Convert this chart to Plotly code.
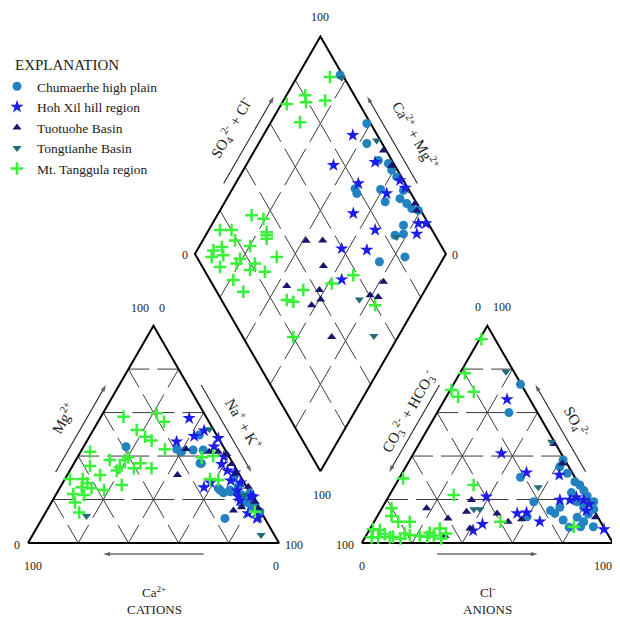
import numpy as np
import plotly.graph_objects as go

# ---------------- data (percent values) ----------------
# Cation triangle: Mg2+ (%) and Na+ + K+ (%); Ca2+ = 100 - Mg - NaK
# Anion triangle: SO4 2- (%) and Cl- (%);  CO3+HCO3 = 100 - SO4 - Cl
# Diamond: Ca2+ + Mg2+ (%) and SO4 2- + Cl- (%)

group_names = ["Chumaerhe high plain", "Hoh Xil hill region", "Tuotuohe Basin",
               "Tongtianhe Basin", "Mt. Tanggula region"]

chum_cat_mg  = [44.3, 43.1, 42.0, 49.7, 36.6, 42.8, 25.1, 23.1, 24.4, 23.6, 22.1, 20.1, 22.8, 18.2, 16.4, 11.3, 17.9, 29.8,
                42.8, 36.7, 24.4, 23.6, 25.9, 22.9, 19.8, 17.5, 14.4]
chum_cat_nak = [16.9, 37.7, 40.2, 43.4, 50.8, 44.4, 63.3, 66.3, 68.2, 71.3, 74.1, 77.1, 77.0, 79.0, 81.5, 72.8, 76.2, 66.9,
                48.4, 50.2, 64.3, 68.7, 70.8, 77.0, 75.9, 81.7, 85.2]
chum_an_so4  = [73.0, 60.0, 38.2, 35.1, 32.1, 28.2, 26.7, 24.1, 23.2, 21.6, 19.0, 19.0, 16.4, 15.5, 13.3, 11.8, 9.8, 7.5,
                10.6, 13.6, 16.4, 14.9, 19.0, 30.2, 12.1, 7.2, 7.5]
chum_an_cl   = [26.7, 28.6, 61.1, 61.3, 65.8, 70.8, 73.5, 76.4, 71.9, 79.0, 82.9, 76.3, 80.2, 84.7, 83.6, 79.9, 83.5, 88.5,
                74.9, 70.1, 70.7, 67.7, 59.0, 48.1, 59.8, 79.0, 83.4]
chum_dia_camg  = [83.3, 61.5, 56.9, 48.4, 43.7, 40.9, 37.3, 31.5, 31.0, 27.2, 24.0, 21.0, 23.5, 21.5, 24.6, 51.2, 49.4,
                  40.8, 36.2, 24.7, 15.6]
chum_dia_so4cl = [99.0, 98.5, 93.9, 94.6, 97.9, 97.7, 98.1, 97.7, 94.4, 96.0, 96.8, 99.0, 89.7, 87.7, 84.0, 78.8, 78.4,
                  88.8, 87.8, 71.7, 83.0]

hoh_cat_mg  = [57.4, 49.2, 46.6, 51.7, 48.2, 44.3, 39.7, 36.3, 33.3, 32.4, 28.7, 27.8, 25.6, 27.8, 11.3, 13.6, 21.3, 21.3,
               24.1, 19.5, 21.6, 11.8]
hoh_cat_nak = [35.5, 41.6, 35.9, 44.3, 51.7, 52.0, 58.2, 59.0, 62.8, 66.2, 66.4, 70.8, 57.3, 58.8, 85.5, 80.9, 79.1, 73.2,
               71.3, 74.7, 77.9, 85.8]
hoh_an_so4  = [66.1, 41.2, 32.4, 31.3, 9.8, 14.0, 13.6, 21.3, 8.7, 5.7, 6.3, 21.0, 19.8, 17.9, 14.9, 19.8, 19.8]
hoh_an_cl   = [24.8, 35.0, 49.4, 63.0, 66.0, 58.6, 55.1, 39.0, 43.7, 41.5, 93.3, 75.0, 78.5, 81.6, 82.0, 69.0, 73.0]
hoh_dia_camg  = [64.4, 65.2, 51.1, 49.3, 37.5, 35.2, 31.4, 46.2, 33.7, 42.7, 32.4, 18.0, 15.0, 16.2, 35.6]
hoh_dia_so4cl = [90.2, 75.6, 81.3, 92.9, 90.3, 98.6, 99.0, 72.4, 77.3, 59.7, 69.4, 96.0, 99.0, 93.0, 52.6]

tuo_cat_mg  = [43.3, 31.3, 42.0, 42.0, 40.9, 36.3, 32.0, 25.9, 19.0, 14.9, 16.4, 16.0]
tuo_cat_nak = [41.3, 43.9, 51.2, 54.8, 58.7, 63.0, 66.8, 74.8, 80.9, 74.4, 76.9, 83.7]
tuo_an_so4  = [19.8, 16.0, 14.4, 11.3, 6.7, 13.6, 9.8, 10.9, 11.8, 36.6, 45.5, 3.2]
tuo_an_cl   = [33.8, 17.8, 34.5, 28.7, 39.7, 47.1, 53.4, 58.2, 87.2, 61.6, 53.7, 31.5]
tuo_dia_camg  = [48.7, 41.9, 23.9, 21.6, 58.7, 52.2, 46.0, 56.0, 42.1, 39.4, 41.7, 18.5, 20.7, 17.1, 26.4]
tuo_dia_so4cl = [98.9, 98.7, 99.3, 98.4, 47.3, 54.0, 48.4, 29.2, 41.3, 39.6, 34.7, 68.7, 60.3, 63.1, 35.4]

ton_cat_mg  = [52.3, 12.4, 3.7, 22.0]
ton_cat_nak = [46.1, 17.1, 91.0, 75.0]
ton_an_so4  = [78.8, 46.6, 15.5, 15.5, 25.6]
ton_an_cl   = [18.0, 52.3, 36.9, 39.3, 57.5]
ton_dia_camg  = [82.0, 53.7, 24.0, 9.8, 23.5]
ton_dia_so4cl = [99.0, 98.5, 55.0, 52.4, 84.3]

tan_cat_mg  = [58.1, 59.7, 55.8, 52.0, 48.9, 47.1, 42.0, 38.2, 38.2, 39.4, 34.8, 33.3, 34.4, 36.7, 34.4, 43.1, 35.4, 31.3,
               29.4, 29.4, 27.5, 25.2, 25.6, 22.5, 22.1, 18.6, 24.4, 26.7, 14.0, 39.4, 29.4, 29.0, 40.0, 14.4]
tan_cat_nak = [9.0, 21.4, 26.3, 17.3, 22.2, 25.7, 3.7, 13.5, 19.5, 20.2, 19.2, 18.7, 25.0, 26.5, 32.0, 33.0, 7.0, 13.1,
               2.0, 7.1, 9.9, 12.7, 8.6, 6.8, 11.3, 9.4, 18.1, 24.0, 13.4, 49.5, 57.8, 61.3, 53.8, 83.2]
tan_an_so4  = [93.7, 78.1, 70.4, 67.3, 69.6, 29.7, 26.7, 22.1, 16.0, 12.4, 9.8, 6.3, 6.0, 4.1, 2.9, 2.1, 4.4, 3.7, 2.6,
               2.6, 3.2, 2.9, 4.7, 6.7, 3.5, 2.1, 4.4, 9.8, 7.5, 9.8, 2.6]
tan_an_cl   = [0.8, 2.0, 0.5, 4.7, 9.8, 1.6, 31.2, 25.6, 3.8, 5.6, 9.6, 1.3, 4.2, 7.1, 11.0, 14.4, 14.9, 17.3, 2.6,
               5.2, 21.5, 24.6, 24.7, 27.7, 26.9, 30.6, 31.3, 50.3, 80.7, 14.2, 9.9]
tan_dia_camg  = [86.9, 97.9, 92.6, 90.6, 83.4, 88.4, 93.4, 88.4, 92.6, 87.0, 87.1, 80.9, 81.2, 74.3, 78.7, 72.0, 68.0,
                 66.7, 73.9, 75.7, 52.8, 49.8, 48.5, 38.7, 32.0, 16.4, 41.7, 95.5, 90.9, 86.3, 80.8, 79.8, 76.4,
                 74.9, 90.9]
tan_dia_so4cl = [94.5, 71.1, 80.4, 79.2, 87.2, 72.2, 8.2, 11.0, 6.0, 7.0, 19.1, 16.9, 14.4, 18.3, 9.3, 10.6, 23.8,
                 31.9, 21.7, 32.9, 26.0, 28.2, 34.9, 47.7, 58.2, 60.0, 20.1, 15.5, 20.1, 31.5, 35.4, 23.8, 33.6,
                 32.1, 12.3]

group_data = [
    (chum_cat_mg, chum_cat_nak, chum_an_so4, chum_an_cl, chum_dia_camg, chum_dia_so4cl),
    (hoh_cat_mg, hoh_cat_nak, hoh_an_so4, hoh_an_cl, hoh_dia_camg, hoh_dia_so4cl),
    (tuo_cat_mg, tuo_cat_nak, tuo_an_so4, tuo_an_cl, tuo_dia_camg, tuo_dia_so4cl),
    (ton_cat_mg, ton_cat_nak, ton_an_so4, ton_an_cl, ton_dia_camg, ton_dia_so4cl),
    (tan_cat_mg, tan_cat_nak, tan_an_so4, tan_an_cl, tan_dia_camg, tan_dia_so4cl),
]

# ---------------- styling ----------------
FONT = "Liberation Serif, Times New Roman, serif"
TXT = "#222222"
marker_styles = [
    dict(symbol="circle", size=9, color="#2383c0"),
    dict(symbol="star", size=10, color="#1c1ceb"),
    dict(symbol="triangle-up", size=8, color="#16166e"),
    dict(symbol="triangle-down", size=8, color="#1e6d78"),
    dict(symbol="cross-thin", size=9, color="#3bf03b", line=dict(width=2.5, color="#3bf03b")),
]

# ---------------- geometry of the Piper diagram ----------------
G = 33.0                    # gap between the two triangles (percent units)
H = np.sqrt(3) / 2
XA = 100 + G                # left corner of anion triangle
DX, DY = 100 + G / 2, G / 2 * np.sqrt(3)   # bottom vertex of diamond


def cat_xy(top, right):
    top = np.asarray(top, float); right = np.asarray(right, float)
    return right + top / 2, top * H


def an_xy(top, right):
    top = np.asarray(top, float); right = np.asarray(right, float)
    return XA + right + top / 2, top * H


def dia_xy(a, s):
    a = np.asarray(a, float); s = np.asarray(s, float)
    return DX + (s - a) / 2, DY + H * (s + a)


fig = go.Figure()

# grid (dashed) ---------------------------------------------------------
gx, gy = [], []


def add_seg(p, q):
    gx.extend([float(p[0]), float(q[0]), None]); gy.extend([float(p[1]), float(q[1]), None])


for fn in (cat_xy, an_xy):
    for i in range(6):
        for j in range(6 - i):
            for di, dj in ((0, 1), (1, 0), (1, -1)):
                i2, j2 = i + di, j + dj
                if j2 < 0 or i2 + j2 > 5:
                    continue
                k, k2 = 5 - i - j, 5 - i2 - j2
                if (i == 0 and i2 == 0) or (j == 0 and j2 == 0) or (k == 0 and k2 == 0):
                    continue
                add_seg(fn(i * 20, j * 20), fn(i2 * 20, j2 * 20))
for i in range(6):
    for j in range(6):
        for di, dj in ((1, 0), (0, 1)):
            i2, j2 = i + di, j + dj
            if i2 > 5 or j2 > 5:
                continue
            if di == 1 and j in (0, 5):
                continue
            if dj == 1 and i in (0, 5):
                continue
            add_seg(dia_xy(i * 20, j * 20), dia_xy(i2 * 20, j2 * 20))

fig.add_trace(go.Scatter(x=gx, y=gy, mode="lines", hoverinfo="skip", showlegend=False,
                         line=dict(color="#3a3a3a", width=1, dash="21px,8px", simplify=False)))

# outlines --------------------------------------------------------------
for fn in (cat_xy, an_xy):
    xs, ys = fn([0, 0, 100, 0], [0, 100, 0, 0])
    fig.add_trace(go.Scatter(x=list(xs), y=list(ys), mode="lines", hoverinfo="skip", showlegend=False,
                             line=dict(color="black", width=2)))
xs, ys = dia_xy([0, 100, 100, 0, 0], [0, 0, 100, 100, 0])
fig.add_trace(go.Scatter(x=list(xs), y=list(ys), mode="lines", hoverinfo="skip", showlegend=False,
                         line=dict(color="black", width=2)))

# annotations / arrows --------------------------------------------------
ann = []


def txt(x, y, t, size=12, angle=0):
    ann.append(dict(x=x, y=y, text=t, showarrow=False, textangle=angle,
                    font=dict(family=FONT, size=size, color=TXT), xref="x", yref="y"))


def edge_frame(p0, p1, nsign):
    p0 = np.array(p0, float); p1 = np.array(p1, float)
    d = (p1 - p0) / np.linalg.norm(p1 - p0)
    n = np.array([-d[1], d[0]]) * nsign
    return p0, p1, n


def arrow(p0, p1, t0, t1, off, nsign):
    p0, p1, n = edge_frame(p0, p1, nsign)
    tail = p0 + (p1 - p0) * t0 + n * off
    head = p0 + (p1 - p0) * t1 + n * off
    fig.add_trace(go.Scatter(x=[tail[0], head[0]], y=[tail[1], head[1]], mode="lines+markers",
                             hoverinfo="skip", showlegend=False,
                             line=dict(color="#222222", width=1.1),
                             marker=dict(symbol="arrow", size=[0, 7], angleref="previous",
                                         color="#222222", line=dict(width=0))))


def label_on_edge(p0, p1, t, off, nsign, text, angle, size=15):
    p0, p1, n = edge_frame(p0, p1, nsign)
    c = p0 + (p1 - p0) * t + n * off
    txt(c[0], c[1], text, size, angle)


# corners of the figures
cBL, cBR, cT = (0, 0), (100, 0), (50, 100 * H)
aBL, aBR, aT = (XA, 0), (XA + 100, 0), (XA + 50, 100 * H)
dB = (DX, DY); dL = (DX - 50, DY + 100 * H); dR = (DX + 50, DY + 100 * H); dT = (DX, DY + 200 * H)

# cation triangle
arrow(cBL, cT, 0.30, 0.70, 4.6, 1)
arrow(cT, cBR, 0.30, 0.70, 4.6, 1)
arrow(cBR, cBL, 0.30, 0.70, 4.4, 1)
label_on_edge(cBL, cT, 0.50, 12.8, 1, "Mg<sup>2+</sup>", -60)
label_on_edge(cT, cBR, 0.52, 11.8, 1, "Na<sup>+</sup> + K<sup>+</sup>", 60)
txt(50.2, -19.6, "Ca<sup>2+</sup>", 13)
txt(50.2, -26.4, "CATIONS", 13)
txt(-4.4, -0.8, "0"); txt(2.0, -9.2, "100"); txt(98.8, -9.2, "0"); txt(106.0, -0.8, "100")
txt(44.6, 93.8, "100"); txt(53.4, 93.8, "0")

# anion triangle
arrow(aT, aBL, 0.30, 0.70, 4.7, -1)
arrow(aBR, aT, 0.30, 0.70, 4.8, -1)
arrow(aBL, aBR, 0.30, 0.70, 4.4, -1)
label_on_edge(aT, aBL, 0.45, 10.3, -1, "CO<sub>3</sub><sup>2-</sup> + HCO<sub>3</sub><sup>-</sup>", -60)
label_on_edge(aBR, aT, 0.49, 11.3, -1, "SO<sub>4</sub><sup>2-</sup>", 60)
txt(XA + 49.9, -19.6, "Cl<sup>-</sup>", 13)
txt(XA + 49.9, -26.4, "ANIONS", 13)
txt(XA - 6.8, -0.8, "100"); txt(XA + 0.1, -9.2, "0"); txt(XA + 96.0, -9.2, "100")
txt(XA + 46.3, 94.0, "0"); txt(XA + 55.8, 94.0, "100")

# diamond
arrow(dL, dT, 0.30, 0.70, 4.1, 1)
arrow(dR, dT, 0.30, 0.70, 4.2, -1)
label_on_edge(dL, dT, 0.51, 12.4, 1, "SO<sub>4</sub><sup>2-</sup> + Cl<sup>-</sup>", -60)
label_on_edge(dR, dT, 0.47, 13.3, -1, "Ca<sup>2+</sup> + Mg<sup>2+</sup>", 60)
txt(DX - 0.2, DY + 200 * H + 7.8, "100")
txt(DX - 54.0, DY + 100 * H - 0.5, "0")
txt(DX + 53.6, DY + 100 * H - 0.5, "0")
txt(DX + 0.6, DY - 9.5, "100")

# samples ---------------------------------------------------------------
for name, (cmg, cnak, aso4, acl, dam, dsc), ms in zip(group_names, group_data, marker_styles):
    x1, y1 = cat_xy(cmg, cnak)
    x2, y2 = an_xy(aso4, acl)
    x3, y3 = dia_xy(dam, dsc)
    fig.add_trace(go.Scatter(x=np.concatenate([x1, x2, x3]), y=np.concatenate([y1, y2, y3]),
                             mode="markers", name=name, marker=ms))

# ---------------- layout ----------------
# the html page has an 8px body margin, so the figure is 16px smaller than the window
OFF = 8
PX = 2.51                    # pixels per percent unit
W, Hgt = 620 - 2 * OFF, 626 - 2 * OFF
X0, Y0 = 28.0 - OFF, 543.0 - OFF      # pixel position of the cation triangle's left corner

# legend title as a paper-positioned text
ann.append(dict(x=(13 - OFF) / W, y=1 - (65 - OFF) / Hgt, xref="paper", yref="paper",
                xanchor="left", yanchor="middle", text="EXPLANATION", showarrow=False,
                font=dict(family=FONT, size=15, color=TXT)))

fig.update_layout(
    width=W, height=Hgt, autosize=False,
    margin=dict(l=0, r=0, t=0, b=0, pad=0, autoexpand=False),
    paper_bgcolor="white", plot_bgcolor="white",
    xaxis=dict(visible=False, range=[-X0 / PX, (W - X0) / PX], fixedrange=True),
    yaxis=dict(visible=False, range=[-(Hgt - Y0) / PX, Y0 / PX], fixedrange=True),
    annotations=ann,
    legend=dict(x=-11 / W, y=1 - 63 / Hgt, xanchor="left", yanchor="top",
                bgcolor="rgba(0,0,0,0)", borderwidth=0,
                font=dict(family=FONT, size=13.5, color=TXT),
                tracegroupgap=0, itemwidth=30),
    showlegend=True,
)

fig.write_html("out.html")
